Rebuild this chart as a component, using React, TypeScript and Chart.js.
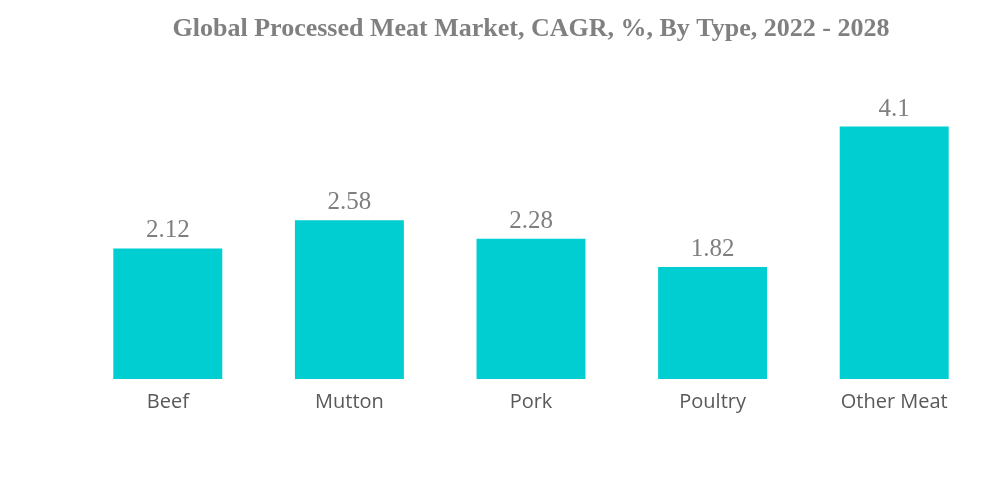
import React, { useEffect, useRef } from "react";
import { Chart, registerables } from "chart.js";

Chart.register(...registerables);

const categories = ["Beef", "Mutton", "Pork", "Poultry", "Other Meat"];
const cagrValues = [2.12, 2.58, 2.28, 1.82, 4.1];
const valueLabels = ["2.12", "2.58", "2.28", "1.82", "4.1"];
const titleText = "Global Processed Meat Market, CAGR, %, By Type, 2022 - 2028";

const valueLabelPlugin = {
  id: "valueLabels",
  afterDatasetsDraw(chart: any) {
    const { ctx } = chart;
    const meta = chart.getDatasetMeta(0);
    ctx.save();
    ctx.font = "25px 'Liberation Serif', 'Times New Roman', serif";
    ctx.fillStyle = "#7f7f7f";
    ctx.textAlign = "center";
    ctx.textBaseline = "alphabetic";
    meta.data.forEach((bar: any, i: number) => {
      ctx.fillText(valueLabels[i], bar.x, bar.y - 11);
    });
    ctx.restore();
  },
};

export default function App() {
  const canvasRef = useRef<HTMLCanvasElement | null>(null);

  useEffect(() => {
    document.body.style.margin = "0";
    const canvas = canvasRef.current;
    if (!canvas) return;
    const chart = new Chart(canvas, {
      type: "bar",
      data: {
        labels: categories,
        datasets: [
          {
            data: cagrValues,
            backgroundColor: "#00CED1",
            borderWidth: 0,
            categoryPercentage: 1,
            barPercentage: 0.6,
          },
        ],
      },
      options: {
        animation: false,
        responsive: true,
        maintainAspectRatio: false,
        layout: { padding: { left: 77, right: 15, top: 0, bottom: 58 } },
        plugins: {
          legend: { display: false },
          tooltip: { enabled: false },
          title: {
            display: true,
            text: titleText,
            color: "#808080",
            font: { family: "'Liberation Serif', 'Times New Roman', serif", size: 26, weight: "bold" },
            padding: { top: 14, bottom: 26 },
          },
        },
        scales: {
          x: {
            grid: { display: false, drawTicks: false },
            border: { display: false },
            ticks: {
              color: "#595959",
              padding: 11,
              font: { family: "'Open Sans', sans-serif", size: 20 },
            },
          },
          y: {
            display: false,
            min: 0,
            max: 5,
          },
        },
      },
      plugins: [valueLabelPlugin],
    });
    return () => chart.destroy();
  }, []);

  return (
    <div style={{ position: "absolute", left: 0, top: 0, width: 1000, height: 483 }}>
      <canvas ref={canvasRef} />
    </div>
  );
}
